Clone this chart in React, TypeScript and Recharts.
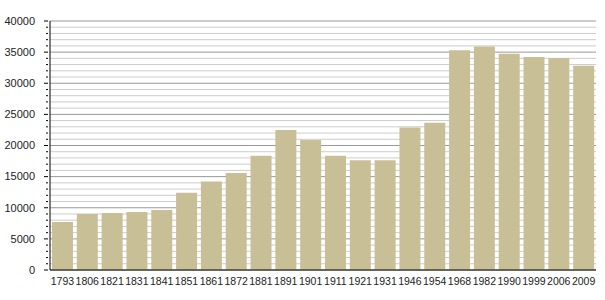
import React from 'react';
import { BarChart, Bar, XAxis, YAxis, CartesianGrid } from 'recharts';

const years = ['1793', '1806', '1821', '1831', '1841', '1851', '1861', '1872', '1881', '1891', '1901',
  '1911', '1921', '1931', '1946', '1954', '1968', '1982', '1990', '1999', '2006', '2009'];
const population = [7700, 9000, 9150, 9300, 9650, 12400, 14200, 15600, 18350, 22500, 20900,
  18350, 17650, 17650, 22900, 23650, 35300, 35900, 34750, 34200, 34050, 32800];
// one tick per 1000, labels only on multiples of 5000
const yTicks = [0, 1000, 2000, 3000, 4000, 5000, 6000, 7000, 8000, 9000, 10000,
  11000, 12000, 13000, 14000, 15000, 16000, 17000, 18000, 19000, 20000,
  21000, 22000, 23000, 24000, 25000, 26000, 27000, 28000, 29000, 30000,
  31000, 32000, 33000, 34000, 35000, 36000, 37000, 38000, 39000, 40000];

const data = years.map((year, i) => ({ year, value: population[i] }));

const FONT = '"Liberation Sans", Arial, sans-serif';

const YTick = (props: any) => {
  const { x, y, payload } = props;
  const major = payload.value % 5000 === 0;
  const ax = x + 3; // axis line position
  return (
    <g>
      <line x1={ax - (major ? 4 : 2)} x2={ax} y1={y} y2={y} stroke="#000" strokeWidth={1} />
      {major && (
        <text x={ax - 13} y={y} dy="0.35em" textAnchor="end" fontSize={11} fontFamily={FONT} fill="#222">
          {payload.value}
        </text>
      )}
    </g>
  );
};

const GridLine = (props: any) => {
  const { x1, x2, y1, y2, index } = props;
  const major = index % 5 === 0;
  return (
    <line key={`g-${index}`} x1={x1} x2={x2} y1={y1} y2={y2}
      stroke={major ? '#999999' : '#cccccc'} strokeWidth={1} />
  );
};

export default function App() {
  return (
    <div style={{ position: 'absolute', left: 0, top: 0, background: '#fff' }}>
      <BarChart width={605} height={300} data={data}
        margin={{ top: 21, right: 9, bottom: 0, left: 0 }} barCategoryGap="8%">
        <CartesianGrid vertical={false} horizontal={GridLine} />
        <XAxis dataKey="year" interval={0} tickLine={false} height={30}
          axisLine={{ stroke: '#000' }}
          tick={{ fontSize: 10.5, fontFamily: FONT, fill: '#222' }} tickMargin={2} />
        <YAxis width={50} domain={[0, 40000]} ticks={yTicks} interval={0}
          tickLine={false} tickSize={3} axisLine={{ stroke: '#000' }} tick={<YTick />} />
        <Bar dataKey="value" fill="#c9bf97" isAnimationActive={false} />
      </BarChart>
    </div>
  );
}
